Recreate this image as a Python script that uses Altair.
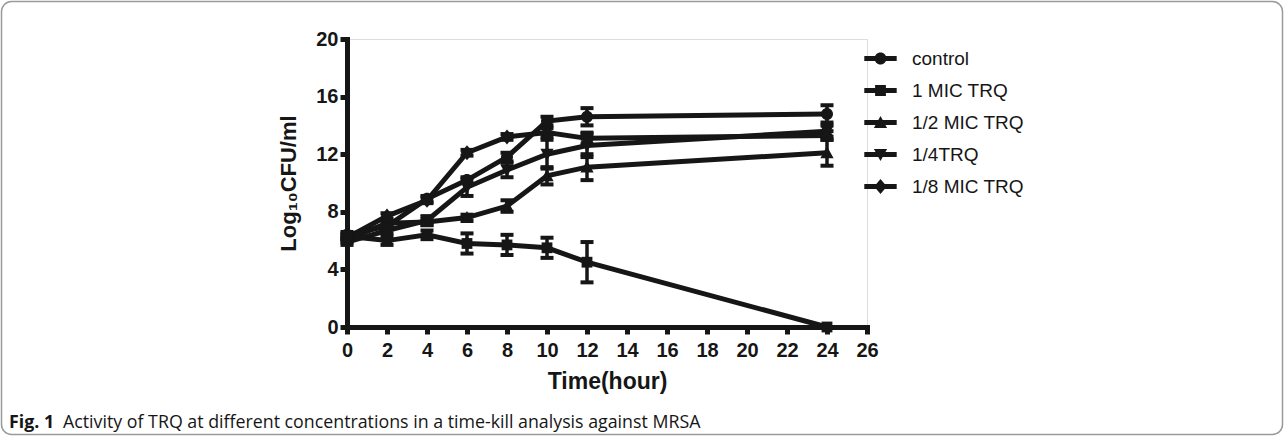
import altair as alt
import pandas as pd

# ---- data ----
times = [0, 2, 4, 6, 8, 10, 12, 24]
series_names = ["control", "1 MIC TRQ", "1/2 MIC TRQ", "1/4TRQ", "1/8 MIC TRQ"]

control = [6.4, 7.0, 8.9, 10.2, 11.8, 14.3, 14.6, 14.8]
control_err = [0.2, 0.2, 0.2, 0.2, 0.3, 0.3, 0.6, 0.6]
mic1 = [6.3, 6.0, 6.4, 5.8, 5.7, 5.5, 4.5, 0.0]
mic1_err = [0.2, 0.3, 0.3, 0.7, 0.7, 0.7, 1.4, 0.0]
mic_half = [6.1, 7.2, 7.3, 7.6, 8.4, 10.5, 11.1, 12.1]
mic_half_err = [0.2, 0.2, 0.2, 0.2, 0.4, 0.6, 0.9, 0.9]
mic_quarter = [5.9, 6.7, 7.4, 9.7, 10.9, 12.0, 12.6, 13.6]
mic_quarter_err = [0.2, 0.2, 0.3, 0.6, 0.5, 1.0, 0.8, 0.4]
mic_eighth = [6.2, 7.7, 8.8, 12.1, 13.2, 13.5, 13.1, 13.3]
mic_eighth_err = [0.2, 0.2, 0.2, 0.2, 0.2, 0.3, 0.4, 0.3]

x_ticks = list(range(0, 27, 2))
y_ticks = [0, 4, 8, 12, 16, 20]

caption_bold = "Fig. 1"
caption_text = "Activity of TRQ at different concentrations in a time-kill analysis against MRSA"

# ---- build table ----
values = [control, mic1, mic_half, mic_quarter, mic_eighth]
errors = [control_err, mic1_err, mic_half_err, mic_quarter_err, mic_eighth_err]
rows = []
for name, vals, errs in zip(series_names, values, errors):
    for t, v, e in zip(times, vals, errs):
        rows.append({"series": name, "t": t, "v": v, "lo": v - e, "hi": v + e, "err": e})
df = pd.DataFrame(rows)

INK = "#161616"
FONT = "Liberation Sans"

marker_paths = [
    "M1,0A1,1 0 1,1 -1,0A1,1 0 1,1 1,0Z",
    "M-0.9,-0.9H0.9V0.9H-0.9Z",
    "M0,-1.1L1.1,0.9H-1.1Z",
    "M0,1.1L-1.1,-0.9H1.1Z",
    "M0,-1.25L1.05,0L0,1.25L-1.05,0Z",
]
bar = "M-2.7,-0.42H2.7V0.42H-2.7Z "
legend_paths = [bar + p for p in marker_paths]

xs = alt.Scale(domain=[0, 26], nice=False, zero=False)
ys = alt.Scale(domain=[0, 20], nice=False)

x_axis = alt.Axis(values=x_ticks, title="Time(hour)", grid=False, tickCount=14,
                  labelFontSize=20, labelFontWeight="bold", labelFont=FONT, labelColor=INK,
                  titleFontSize=23, titleFontWeight="bold", titleFont=FONT, titleColor=INK,
                  domainColor=INK, domainWidth=5, domainCap="square",
                  tickColor=INK, tickWidth=5, tickSize=7, labelPadding=6, titlePadding=10,
                  labelFlush=False, labelOverlap=False)
y_axis = alt.Axis(values=y_ticks, title="Log₁₀CFU/ml", grid=False,
                  labelFontSize=20, labelFontWeight="bold", labelFont=FONT, labelColor=INK,
                  titleFontSize=22, titleFontWeight="bold", titleFont=FONT, titleColor=INK,
                  domainColor=INK, domainWidth=5, domainCap="square",
                  tickColor=INK, tickWidth=5, tickSize=7, labelPadding=2, titlePadding=15,
                  labelFlush=False, labelOverlap=False)


def X(f="t"):
    return alt.X(f + ":Q", scale=xs, axis=x_axis, title="Time(hour)")


def Y(f="v"):
    return alt.Y(f + ":Q", scale=ys, axis=y_axis, title="Log₁₀CFU/ml")


base = alt.Chart(df)

lines = base.mark_line(strokeWidth=5, color=INK).encode(x=X(), y=Y(), detail="series:N")

eb = base.transform_filter("datum.err > 0")
rules = eb.mark_rule(strokeWidth=3.5, color=INK).encode(x=X(), y=Y("lo"), y2="hi:Q")
cap_lo = eb.mark_tick(orient="horizontal", size=13, thickness=4, color=INK, opacity=1).encode(
    x=X(), y=Y("lo")
)
cap_hi = eb.mark_tick(orient="horizontal", size=13, thickness=4, color=INK, opacity=1).encode(
    x=X(), y=Y("hi")
)

points = base.mark_point(filled=True, size=144, opacity=1, color=INK, strokeWidth=0).encode(
    x=X(), y=Y(),
    shape=alt.Shape("series:N", scale=alt.Scale(domain=series_names, range=marker_paths), legend=None),
)

legend_layer = base.transform_filter("datum.t < 0").mark_point(
    filled=True, size=144, opacity=1, color=INK, strokeWidth=0
).encode(
    x=X(), y=Y(),
    shape=alt.Shape(
        "series:N",
        scale=alt.Scale(domain=series_names, range=legend_paths),
        legend=alt.Legend(
            title=None, orient="none", legendX=524, legendY=10,
            symbolSize=144, symbolFillColor=INK, symbolStrokeWidth=0, symbolOpacity=1,
            labelFont=FONT, labelFontSize=19, labelColor=INK, labelOffset=22,
            rowPadding=12, padding=0, labelLimit=300,
        ),
    ),
)

deco = alt.Chart(pd.DataFrame({"k": [0]}))
border = deco.mark_rect(fillOpacity=0, stroke="#9a9a9a", strokeWidth=1.5, cornerRadius=10).encode(
    x=alt.value(-345.5), x2=alt.value(935.5), y=alt.value(-37.5), y2=alt.value(395.5)
)
cap1 = deco.mark_text(text=caption_bold, font="Open Sans", fontSize=17.8, fontWeight="bold",
                      align="left", baseline="alphabetic", color=INK).encode(
    x=alt.value(-338), y=alt.value(389)
)
cap2 = deco.mark_text(text=caption_text, font="Open Sans", fontSize=17.8,
                      align="left", baseline="alphabetic", color=INK).encode(
    x=alt.value(-284), y=alt.value(389)
)

chart = alt.layer(
    lines, rules, cap_lo, cap_hi, points, legend_layer, border, cap1, cap2
).resolve_scale(shape="independent").properties(
    width=520, height=288,
    autosize=alt.AutoSizeParams(type="none"),
    padding={"left": 347, "top": 39, "right": 417, "bottom": 109},
).configure_view(stroke=None).configure(background="white")

chart.save("out.html", embed_options={"renderer": "svg", "actions": False})
